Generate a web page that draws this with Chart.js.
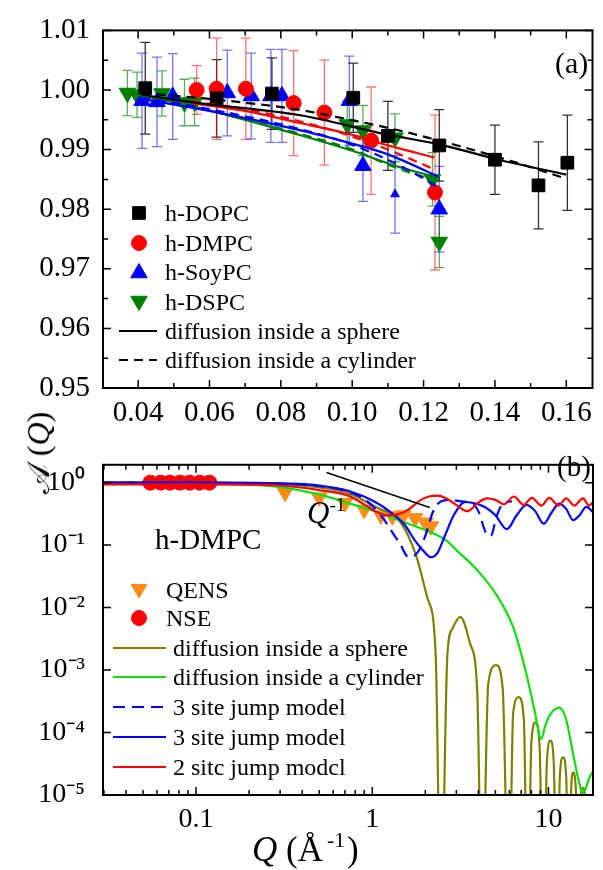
<!DOCTYPE html>
<html><head><meta charset="utf-8">
<script src="https://cdn.jsdelivr.net/npm/chart.js@4.4.1/dist/chart.umd.min.js"></script>
<style>
html,body{margin:0;padding:0;background:#fff;}
#wrap{position:relative;width:603px;height:870px;overflow:hidden;font-family:"Liberation Serif","Times New Roman",serif;color:#000;background:#fff;}
canvas{position:absolute;left:0;}
.t{position:absolute;white-space:nowrap;}
.sup{position:relative;font-size:0.62em;top:-0.6em;}
</style></head>
<body><div id="wrap">
<canvas id="ca" width="603" height="430" style="top:0"></canvas>
<canvas id="cb" width="603" height="440" style="top:430px"></canvas>
</div>
<script>
// ================= Panel (a) data =================
const aXTicks = [0.04, 0.06, 0.08, 0.10, 0.12, 0.14, 0.16];
const aXMinor = [0.05, 0.07, 0.09, 0.11, 0.13, 0.15];
const aYTicks = [0.95, 0.96, 0.97, 0.98, 0.99, 1.00, 1.01];
const aYMinor = [0.955, 0.965, 0.975, 0.985, 0.995, 1.005];

const dopcQ   = [0.042, 0.062, 0.0775, 0.1003, 0.1100, 0.1244, 0.1400, 0.1522, 0.1603];
const dopcA   = [1.0003, 0.9986, 0.9994, 0.9987, 0.9923, 0.9907, 0.9883, 0.9840, 0.9878];
const dopcErr = [0.0077, 0.0065, 0.0060, 0.0058, 0.0058, 0.0060, 0.0058, 0.0073, 0.0080];

const dmpcQ   = [0.0564, 0.0620, 0.0702, 0.0836, 0.0922, 0.1053, 0.1232];
const dmpcA   = [1.0000, 1.0002, 1.0002, 0.9978, 0.9962, 0.9915, 0.9828];
const dmpcErr = [0.0041, 0.0085, 0.0085, 0.0088, 0.0088, 0.0090, 0.0130];

const soyQ   = [0.0411, 0.0453, 0.0497, 0.0650, 0.0717, 0.0772, 0.0803, 0.0992, 0.1030, 0.1120, 0.1244];
const soyA   = [0.9982, 0.9980, 0.9989, 0.9995, 0.9990, 0.9990, 0.9990, 0.9982, 0.9873, 0.9825, 0.9800];
const soyErr = [0.0080, 0.0075, 0.0072, 0.0072, 0.0072, 0.0078, 0.0078, 0.0075, 0.0060, 0.0065, 0.0072];

const dspcQ   = [0.0370, 0.0397, 0.0467, 0.0530, 0.0558, 0.0986, 0.1030, 0.1120, 0.1225, 0.1244];
const dspcA   = [0.9995, 0.9992, 0.9994, 0.9979, 0.9980, 0.9942, 0.9932, 0.9920, 0.9850, 0.9745];
const dspcErr = [0.0038, 0.0038, 0.0038, 0.0039, 0.0040, 0.0040, 0.0042, 0.0040, 0.0045, 0.0043];

// fits: diffusion inside a sphere (solid) / cylinder (dashed)
const dopcSphQ = [0.041, 0.057, 0.085, 0.110, 0.125, 0.141, 0.160];
const dopcSphA = [0.9992, 0.9978, 0.9958, 0.9925, 0.9908, 0.9883, 0.9858];
const dopcCylQ = [0.041, 0.060, 0.085, 0.097, 0.116, 0.145, 0.160];
const dopcCylA = [0.9995, 0.9985, 0.9967, 0.9953, 0.9928, 0.9880, 0.9851];
const dmpcSphQ = [0.055, 0.070, 0.085, 0.100, 0.110, 0.123];
const dmpcSphA = [0.9978, 0.9965, 0.9945, 0.9925, 0.9907, 0.9887];
const dmpcCylQ = [0.055, 0.070, 0.085, 0.100, 0.110, 0.123];
const dmpcCylA = [0.9981, 0.9968, 0.9948, 0.9922, 0.9900, 0.9867];
const soySphQ  = [0.041, 0.060, 0.085, 0.100, 0.110, 0.124];
const soySphA  = [0.9985, 0.9965, 0.9933, 0.9910, 0.9892, 0.9855];
const soyCylQ  = [0.041, 0.060, 0.085, 0.100, 0.116, 0.124];
const soyCylA  = [0.9987, 0.9968, 0.9935, 0.9908, 0.9865, 0.9837];
const dspcSphQ = [0.037, 0.055, 0.085, 0.100, 0.112, 0.124];
const dspcSphA = [0.9995, 0.9973, 0.9925, 0.9898, 0.9873, 0.9853];
const dspcCylQ = [0.037, 0.055, 0.085, 0.100, 0.112, 0.124];
const dspcCylA = [0.9993, 0.9972, 0.9927, 0.9900, 0.9870, 0.9847];

// ================= Panel (b) data =================
const bXTicks = [0.1, 1, 10];
const bXMinor = [0.03,0.04,0.05,0.06,0.07,0.08,0.09,0.2,0.3,0.4,0.5,0.6,0.7,0.8,0.9,2,3,4,5,6,7,8,9];
const bYTicks = [1e-5, 1e-4, 1e-3, 1e-2, 1e-1, 1];
const bYLabels = ['10\u207B\u2075','10\u207B\u2074','10\u207B\u00B3','10\u207B\u00B2','10\u207B\u00B9','10\u2070'];

const nseQ  = [0.055, 0.063, 0.071, 0.081, 0.092, 0.105, 0.119];
const nseA  = [1.0, 1.0, 1.0, 1.0, 1.0, 1.0, 1.0];
const qensQ = [0.32, 0.50, 0.70, 0.90, 1.12, 1.30, 1.50, 1.75, 2.00, 2.15];
const qensA = [0.69, 0.58, 0.47, 0.37, 0.30, 0.29, 0.30, 0.27, 0.23, 0.20];

const sphQ = [0.03,0.1,0.2,0.3,0.5,0.73,1.04,1.45,1.77,2.06,2.29,2.45, 2.67,2.85,3.16,3.6,3.94,4.2, 4.55,5.04,5.5,5.96, 6.3,6.78,7.25,7.62, 8.0,8.45,8.9,9.37, 9.8,10.26,10.7,11.2, 11.6,12.1,12.6,13.1, 13.45,13.8,14.3,14.7, 15.2,15.7,16.2,16.7];
const sphA = [1.0,0.997,0.985,0.94,0.84,0.68,0.41,0.23,0.069,0.014,0.0018,1e-7, 0.0018,0.0046,0.0071,0.0026,0.00047,1e-7, 0.0006,0.0012,0.0005,1e-7, 0.0002,0.00037,0.00016,1e-7, 7e-5,1.45e-4,6e-5,1e-7, 3.5e-5,7.4e-5,3.5e-5,1e-7, 2e-5,4e-5,2e-5,1e-7, 1.2e-5,2.3e-5,1.2e-5,1e-7, 8e-6,1.3e-5,8e-6,1e-7];

const cylQ = [0.03,0.1,0.2,0.3,0.5,0.73,1.0,1.28,1.6,2.15,2.67,3.04,3.6,4.1,5.1,6.35,7.5,8.3,9.1,9.6,10.3,11.5,12.6,13.8,15.0,15.7,16.3,17.2,18];
const cylA = [1.0,0.98,0.93,0.85,0.65,0.47,0.36,0.28,0.22,0.16,0.115,0.08,0.052,0.035,0.0155,0.0046,0.00085,0.00024,0.000079,0.00013,0.0002,0.00025,0.00016,0.000045,0.000015,0.0000105,0.000013,0.00002,0.000024];

const jump3dQ = [0.03,0.1,0.2,0.3,0.5,0.73,0.9,1.12,1.3,1.45,1.6,1.8,2.0,2.2,2.45,2.8,3.2,3.6,4.0,4.4,4.7,5.1,5.6,6.2];
const jump3dA = [1.0,0.997,0.985,0.96,0.88,0.72,0.55,0.30,0.16,0.10,0.065,0.075,0.14,0.33,0.5,0.53,0.5,0.48,0.35,0.16,0.14,0.3,0.48,0.5];

const jump3Q = [0.03,0.1,0.2,0.3,0.5,0.73,1.04,1.28,1.53,1.74,1.99,2.15,2.35,2.57,2.9,3.37,3.9,4.4,5.0,5.8,6.6,7.5,8.4,9.4,10.4,11.5,12.6,13.8,15.0,16.4,18];
const jump3A = [1.0,0.998,0.99,0.97,0.9,0.74,0.49,0.33,0.21,0.12,0.076,0.064,0.076,0.136,0.3,0.49,0.46,0.4,0.3,0.18,0.3,0.44,0.35,0.22,0.33,0.46,0.38,0.25,0.3,0.41,0.33];

const jump2Q = [0.03,0.1,0.2,0.3,0.5,0.73,0.91,1.08,1.23,1.4,1.6,1.89,2.1,2.35,2.6,2.93,3.46,4.0,4.48,5.0,5.59,6.36,7.24,8.02,9.14,10.1,11.4,12.6,14.0,15.7,17.0,18];
const jump2A = [0.94,0.935,0.93,0.9,0.76,0.62,0.44,0.33,0.30,0.31,0.37,0.53,0.60,0.62,0.57,0.46,0.35,0.48,0.56,0.53,0.45,0.60,0.44,0.57,0.43,0.57,0.43,0.56,0.43,0.56,0.43,0.5];

const powQ = [0.55, 2.12];
const powA = [1.45, 0.40];

// ================= helpers =================
const pts = (xs, ys) => xs.map((x, i) => ({x: x, y: ys[i]}));
Chart.defaults.font.family = "'Liberation Serif','Times New Roman',serif";
Chart.defaults.color = '#000';

const frameTicks = {
  id: 'frameTicks',
  afterDatasetsDraw(chart, args, o) {
    const {ctx, chartArea: a, scales: {x, y}} = chart;
    ctx.save();
    ctx.strokeStyle = '#000';
    ctx.lineWidth = 1.5;
    const tx = (vals, len) => vals.forEach(v => {
      const p = x.getPixelForValue(v);
      ctx.beginPath();
      ctx.moveTo(p, a.bottom); ctx.lineTo(p, a.bottom - len);
      ctx.moveTo(p, a.top); ctx.lineTo(p, a.top + len);
      ctx.stroke();
    });
    const ty = (vals, len) => vals.forEach(v => {
      const p = y.getPixelForValue(v);
      ctx.beginPath();
      ctx.moveTo(a.left, p); ctx.lineTo(a.left + len, p);
      ctx.moveTo(a.right, p); ctx.lineTo(a.right - len, p);
      ctx.stroke();
    });
    tx(o.xMajor, 8); tx(o.xMinor || [], 5);
    ty(o.yMajor, 8); ty(o.yMinor || [], 5);
    ctx.lineWidth = 2;
    ctx.strokeRect(a.left, a.top, a.right - a.left, a.bottom - a.top);
    ctx.restore();
  }
};

const errorBars = {
  id: 'errorBars',
  beforeDatasetsDraw(chart) {
    const {ctx, scales: {x, y}} = chart;
    ctx.save();
    ctx.lineWidth = 1.3;
    chart.data.datasets.forEach(ds => {
      if (!ds.errY) return;
      ctx.strokeStyle = ds.errColor;
      ds.data.forEach((d, j) => {
        const px = x.getPixelForValue(d.x);
        const y1 = y.getPixelForValue(d.y + ds.errY[j]);
        const y2 = y.getPixelForValue(d.y - ds.errY[j]);
        ctx.beginPath();
        ctx.moveTo(px, y1); ctx.lineTo(px, y2);
        ctx.moveTo(px - 5, y1); ctx.lineTo(px + 5, y1);
        ctx.moveTo(px - 5, y2); ctx.lineTo(px + 5, y2);
        ctx.stroke();
      });
    });
    ctx.restore();
  }
};

const legendMarks = {
  id: 'legendMarks',
  afterDatasetsDraw(chart, args, o) {
    const ctx = chart.ctx;
    ctx.save();
    (o.items || []).forEach(it => {
      if (it.kind === 'point') {
        ctx.fillStyle = it.color; ctx.strokeStyle = it.color;
        Chart.helpers.drawPoint(ctx, {pointStyle: it.style, radius: it.radius, rotation: it.rotation || 0, borderWidth: 1}, it.x, it.y);
      } else {
        ctx.strokeStyle = it.color; ctx.lineWidth = it.width || 2;
        ctx.setLineDash(it.dash || []);
        ctx.beginPath(); ctx.moveTo(it.x1, it.y); ctx.lineTo(it.x2, it.y); ctx.stroke();
        ctx.setLineDash([]);
      }
    });
    ctx.restore();
  }
};

const markerSet = (label, xs, ys, errs, color, errColor, style, radius, rotation) => ({
  label, data: pts(xs, ys), errY: errs, errColor,
  pointStyle: style, pointRadius: radius, pointRotation: rotation || 0,
  backgroundColor: color, borderColor: color, borderWidth: 1, showLine: false, order: 10
});
const lineSet = (label, xs, ys, color, dash, width, order) => ({
  label, data: pts(xs, ys), showLine: true, pointRadius: 0, borderColor: color,
  borderWidth: width || 2, borderDash: dash || [], cubicInterpolationMode: 'monotone', fill: false, order: order || 1
});

// ================= Chart (a) =================
const soyRadius = soyQ.map((q, i) => i === 9 ? 5 : 9.5);
new Chart(document.getElementById('ca'), {
  type: 'scatter',
  data: {datasets: [
    markerSet('h-DOPC', dopcQ, dopcA, dopcErr, '#000', 'rgba(0,0,0,0.8)', 'rect', 9, 0),
    markerSet('h-DMPC', dmpcQ, dmpcA, dmpcErr, '#ff0000', 'rgba(255,0,0,0.55)', 'circle', 7.5, 0),
    Object.assign(markerSet('h-SoyPC', soyQ, soyA, soyErr, '#0000ff', 'rgba(0,0,255,0.55)', 'triangle', 9.5, 0), {pointRadius: soyRadius}),
    markerSet('h-DSPC', dspcQ, dspcA, dspcErr, '#008000', 'rgba(0,128,0,0.65)', 'triangle', 9.5, 180),
    lineSet('DOPC sphere', dopcSphQ, dopcSphA, '#000', [], 2.2),
    lineSet('DOPC cylinder', dopcCylQ, dopcCylA, '#000', [9, 6], 2.2),
    lineSet('DMPC sphere', dmpcSphQ, dmpcSphA, '#ff0000', [], 2.2),
    lineSet('DMPC cylinder', dmpcCylQ, dmpcCylA, '#ff0000', [9, 6], 2.2),
    lineSet('SoyPC sphere', soySphQ, soySphA, '#0000ff', [], 2.2),
    lineSet('SoyPC cylinder', soyCylQ, soyCylA, '#0000ff', [9, 6], 2.2),
    lineSet('DSPC sphere', dspcSphQ, dspcSphA, '#008000', [], 2.2),
    lineSet('DSPC cylinder', dspcCylQ, dspcCylA, '#008000', [9, 6], 2.2)
  ]},
  options: {
    responsive: false, animation: false, devicePixelRatio: 1,
    layout: {padding: {left: 0, right: 5, top: 27, bottom: 0}},
    plugins: {
      legend: {display: false}, tooltip: {enabled: false},
      frameTicks: {xMajor: aXTicks, xMinor: aXMinor, yMajor: aYTicks, yMinor: aYMinor},
      legendMarks: {items: [
        {kind: 'point', style: 'rect', radius: 9, color: '#000', x: 139, y: 213},
        {kind: 'point', style: 'circle', radius: 7.5, color: '#ff0000', x: 139, y: 243},
        {kind: 'point', style: 'triangle', radius: 9.5, color: '#0000ff', x: 139, y: 273},
        {kind: 'point', style: 'triangle', radius: 9.5, rotation: 180, color: '#008000', x: 139, y: 301},
        {kind: 'line', color: '#000', x1: 119, x2: 157, y: 331},
        {kind: 'line', color: '#000', dash: [9, 6], x1: 119, x2: 157, y: 360}
      ]}
    },
    scales: {
      x: {type: 'linear', min: 0.03016, max: 0.16734,
        grid: {display: false, drawTicks: false}, border: {display: false},
        afterBuildTicks: s => { s.ticks = aXTicks.map(v => ({value: v})); },
        afterFit: s => { s.height = 42; },
        ticks: {font: {size: 29}, color: '#000', padding: 8, maxRotation: 0, autoSkip: false, callback: v => Number(v).toFixed(2)}},
      y: {type: 'linear', min: 0.95, max: 1.01,
        grid: {display: false, drawTicks: false}, border: {display: false},
        afterBuildTicks: s => { s.ticks = aYTicks.map(v => ({value: v})); },
        afterFit: s => { s.width = 103; },
        ticks: {font: {size: 29}, color: '#000', padding: 13, autoSkip: false, callback: v => Number(v).toFixed(2)}}
    }
  },
  plugins: [errorBars, frameTicks, legendMarks]
});

// ================= Chart (b) =================
const OFF = 430;
new Chart(document.getElementById('cb'), {
  type: 'scatter',
  data: {datasets: [
    markerSet('QENS', qensQ, qensA, null, '#ff8c14', null, 'triangle', 9, 180),
    markerSet('NSE', nseQ, nseA, null, '#ff0000', null, 'circle', 7.5, 0),
    lineSet('diffusion inside a sphere', sphQ, sphA, '#808000', [], 2.2, 6),
    lineSet('diffusion inside a cylinder', cylQ, cylA, '#11dd11', [], 2.2, 5),
    lineSet('3 site jump model (dashed)', jump3dQ, jump3dA, '#0000ff', [12, 7], 2.2, 4),
    lineSet('3 site jump model', jump3Q, jump3A, '#0000ff', [], 2.2, 3),
    lineSet('2 site jump model', jump2Q, jump2A, '#ff0000', [], 2.2, 2),
    lineSet('Q^-1', powQ, powA, '#000', [], 1.5, 1)
  ]},
  options: {
    responsive: false, animation: false, devicePixelRatio: 1,
    layout: {padding: {left: 0, right: 5, top: 5, bottom: 0}},
    plugins: {
      legend: {display: false}, tooltip: {enabled: false},
      frameTicks: {xMajor: bXTicks, xMinor: bXMinor, yMajor: bYTicks, yMinor: []},
      legendMarks: {items: [
        {kind: 'point', style: 'triangle', radius: 9, rotation: 180, color: '#ff8c14', x: 139, y: 589 - OFF},
        {kind: 'point', style: 'circle', radius: 7.5, color: '#ff0000', x: 139, y: 618 - OFF},
        {kind: 'line', color: '#808000', x1: 113, x2: 166, y: 648 - OFF},
        {kind: 'line', color: '#11dd11', x1: 113, x2: 166, y: 677 - OFF},
        {kind: 'line', color: '#0000ff', dash: [12, 7], x1: 113, x2: 166, y: 707 - OFF},
        {kind: 'line', color: '#0000ff', x1: 113, x2: 166, y: 737 - OFF},
        {kind: 'line', color: '#ff0000', x1: 113, x2: 166, y: 767 - OFF}
      ]}
    },
    scales: {
      x: {type: 'logarithmic', min: 0.02965, max: 17.89,
        grid: {display: false, drawTicks: false}, border: {display: false},
        afterBuildTicks: s => { s.ticks = bXTicks.map(v => ({value: v})); },
        afterFit: s => { s.height = 75; },
        ticks: {font: {size: 28}, color: '#000', padding: 8, maxRotation: 0, autoSkip: false, callback: v => String(v)}},
      y: {type: 'logarithmic', min: 1e-5, max: 1.93,
        grid: {display: false, drawTicks: false}, border: {display: false},
        afterBuildTicks: s => { s.ticks = bYTicks.map(v => ({value: v})); },
        afterFit: s => { s.width = 103; },
        ticks: {font: {size: 28}, color: '#000', padding: 18, autoSkip: false,
          callback: v => bYLabels[bYTicks.findIndex(t => Math.abs(Math.log10(t) - Math.log10(v)) < 1e-6)]}}
    }
  },
  plugins: [frameTicks, legendMarks]
});

// ================= text overlays =================
const wrap = document.getElementById('wrap');
function label(html, x, yc, size, extra) {
  const d = document.createElement('div');
  d.className = 't';
  d.innerHTML = html;
  d.style.left = x + 'px';
  d.style.top = (yc - size / 2) + 'px';
  d.style.fontSize = size + 'px';
  d.style.lineHeight = size + 'px';
  if (extra) Object.assign(d.style, extra);
  wrap.appendChild(d);
  return d;
}
label('(a)', 555, 63, 30);
['h-DOPC', 'h-DMPC', 'h-SoyPC', 'h-DSPC', 'diffusion inside a sphere', 'diffusion inside a cylinder']
  .forEach((s, i) => label(s, 165, [213, 243, 272, 302, 331, 360][i], 24));
label('(b)', 557, 466, 29);
label('h-DMPC', 155, 539, 29);
label('<i>Q</i><span class="sup">-1</span>', 307, 512, 31);
['QENS', 'NSE'].forEach((s, i) => label(s, 166, [590, 618][i], 24));
['diffusion inside a sphere', 'diffusion inside a cylinder', '3 site jump model', '3 site jump model', '2 sitc jump modcl']
  .forEach((s, i) => label(s, 173, [648, 677, 707, 737, 767][i], 24));
label('<i>Q</i> (Å<span class="sup" style="margin-left:4px;margin-right:2px">-1</span>)', 252, 849, 35);
label('\uD835\uDC9C (<i>Q</i>)', 38, 453, 32, {transform: 'translate(-50%,0) rotate(-90deg)', transformOrigin: '50% 50%'});
</script>
</body></html>
